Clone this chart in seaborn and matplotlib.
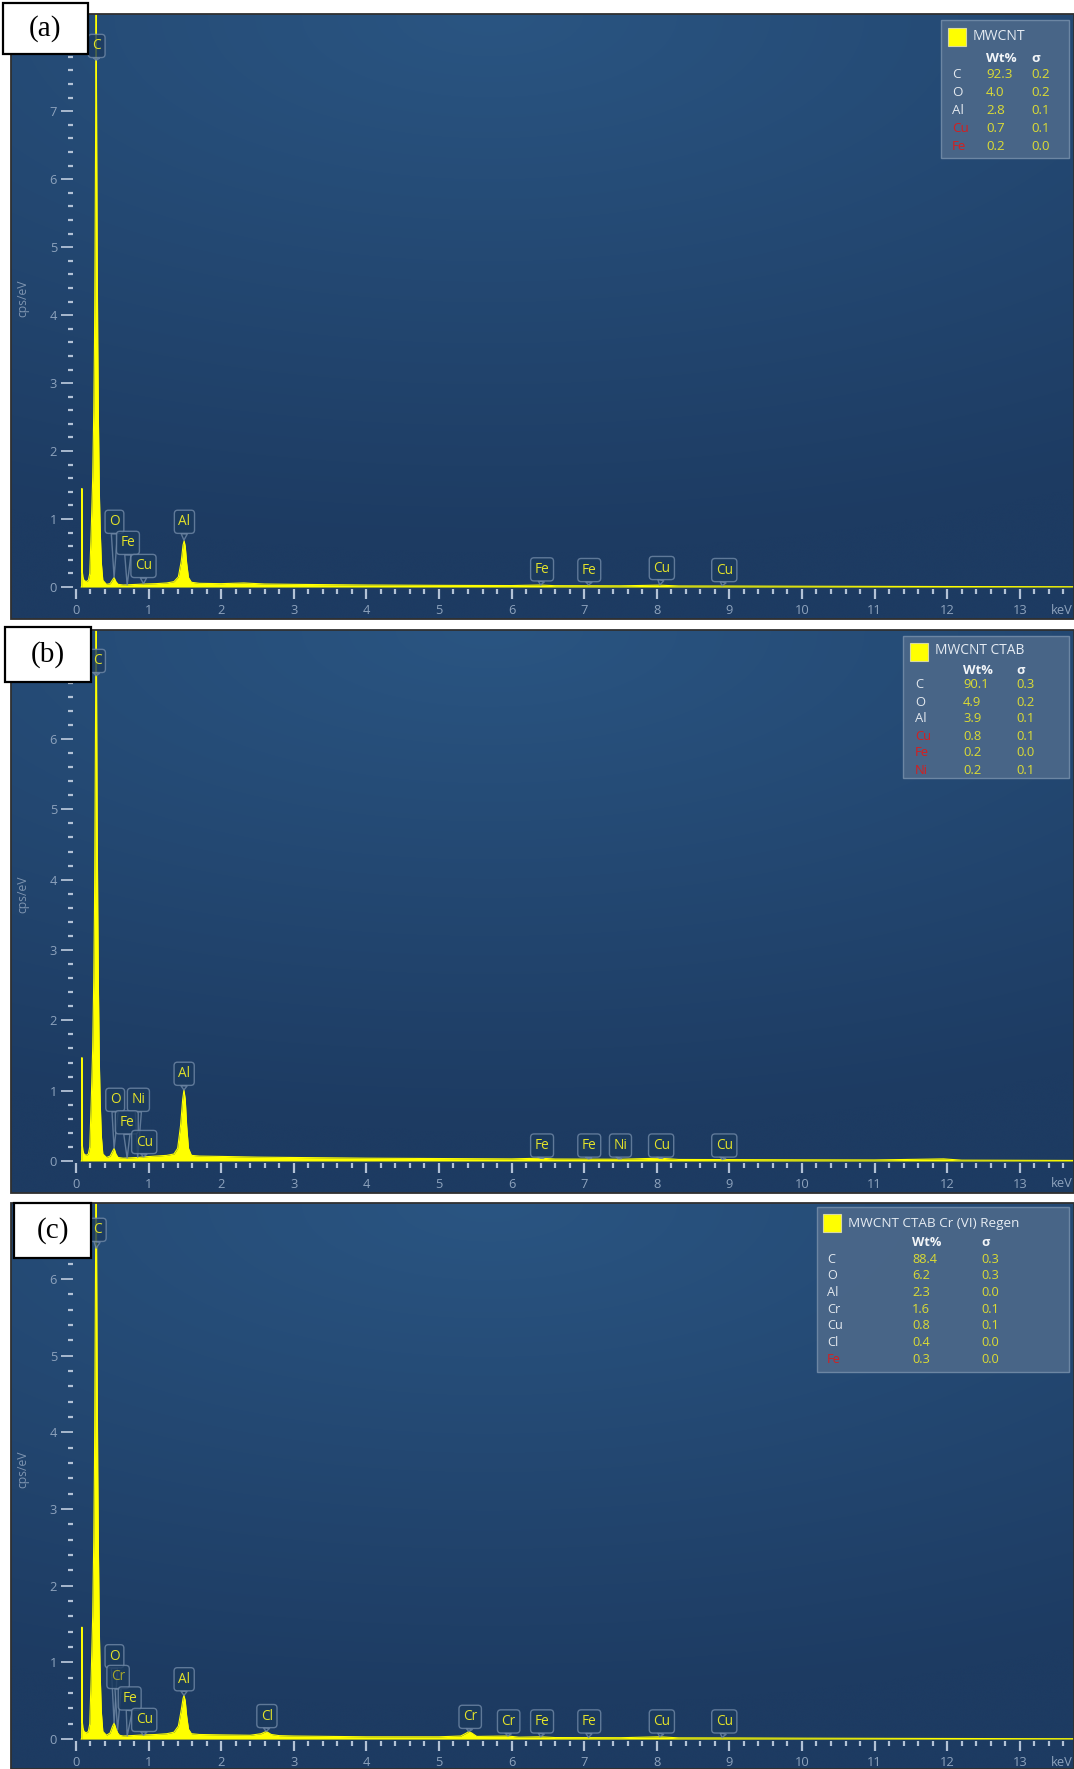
import numpy as np
import matplotlib
matplotlib.use("Agg")
import matplotlib.pyplot as plt
import seaborn as sns
from matplotlib.colors import to_rgb
from matplotlib.patches import Rectangle
from matplotlib.ticker import FixedLocator

# ---------------- spectra (keV, cps/eV) ----------------
energy_a = [0.070, 0.078, 0.082, 0.086, 0.095, 0.110, 0.140, 0.170, 0.190, 0.210,
            0.230, 0.245, 0.255, 0.263, 0.270, 0.275, 0.278, 0.281, 0.286, 0.292,
            0.300, 0.310, 0.322, 0.335, 0.350, 0.370, 0.420, 0.470, 0.500, 0.525,
            0.550, 0.580, 0.650, 0.750, 0.850, 0.950, 1.100, 1.250, 1.350, 1.410,
            1.450, 1.475, 1.490, 1.505, 1.525, 1.550, 1.590, 1.700, 2.000, 2.310,
            2.600, 3.000, 3.500, 4.000, 5.000, 6.000, 6.400, 6.600, 7.500, 8.040,
            8.300, 9.000, 10.00, 11.00, 12.00, 13.00, 13.75]
counts_a = [0, 0, 1.45, 0.25, 0.15, 0.10, 0.08, 0.10, 0.20, 0.85,
            1.6, 2.6, 3.6, 5.0, 6.6, 8.0, 8.6, 7.8, 6.4, 5.0,
            3.6, 2.4, 1.4, 0.8, 0.35, 0.10, 0.04, 0.05, 0.10, 0.14,
            0.08, 0.04, 0.03, 0.035, 0.04, 0.045, 0.05, 0.06, 0.08, 0.15,
            0.38, 0.62, 0.68, 0.60, 0.35, 0.14, 0.07, 0.055, 0.05, 0.06,
            0.045, 0.04, 0.035, 0.03, 0.025, 0.022, 0.03, 0.02, 0.018, 0.028,
            0.016, 0.015, 0.012, 0.010, 0.008, 0.006, 0.005]

energy_b = [0.070, 0.078, 0.082, 0.086, 0.095, 0.110, 0.140, 0.170, 0.190, 0.210,
            0.230, 0.245, 0.255, 0.263, 0.270, 0.275, 0.278, 0.281, 0.286, 0.292,
            0.300, 0.310, 0.322, 0.335, 0.350, 0.370, 0.420, 0.470, 0.500, 0.525,
            0.550, 0.580, 0.650, 0.750, 0.850, 0.950, 1.100, 1.250, 1.350, 1.400,
            1.440, 1.470, 1.487, 1.505, 1.525, 1.550, 1.590, 1.700, 2.000, 2.500,
            3.000, 3.500, 4.000, 5.000, 6.000, 6.400, 6.600, 7.500, 8.040, 8.300,
            9.000, 10.00, 11.00, 11.95, 12.20, 13.00, 13.75]
counts_b = [0, 0, 1.47, 0.25, 0.15, 0.10, 0.08, 0.10, 0.20, 0.85,
            1.6, 2.6, 3.6, 5.0, 6.4, 7.6, 8.0, 7.4, 6.2, 4.9,
            3.6, 2.4, 1.4, 0.8, 0.35, 0.10, 0.05, 0.07, 0.13, 0.18,
            0.10, 0.05, 0.04, 0.045, 0.05, 0.06, 0.07, 0.08, 0.10, 0.18,
            0.50, 0.88, 1.01, 0.88, 0.50, 0.18, 0.08, 0.07, 0.065, 0.055,
            0.05, 0.045, 0.04, 0.035, 0.03, 0.04, 0.028, 0.025, 0.04, 0.022,
            0.02, 0.017, 0.015, 0.03, 0.012, 0.01, 0.008]

energy_c = [0.070, 0.078, 0.082, 0.086, 0.095, 0.110, 0.140, 0.170, 0.190, 0.210,
            0.230, 0.245, 0.255, 0.263, 0.270, 0.275, 0.278, 0.281, 0.286, 0.292,
            0.300, 0.310, 0.322, 0.335, 0.350, 0.370, 0.420, 0.470, 0.500, 0.525,
            0.550, 0.575, 0.600, 0.650, 0.750, 0.850, 0.950, 1.100, 1.250, 1.350,
            1.410, 1.450, 1.475, 1.487, 1.505, 1.525, 1.550, 1.590, 1.700, 2.000,
            2.400, 2.550, 2.620, 2.690, 2.800, 3.000, 3.500, 4.000, 5.000, 5.300,
            5.380, 5.410, 5.450, 5.520, 5.950, 6.100, 6.400, 6.600, 7.500, 8.040,
            8.300, 9.000, 10.00, 11.00, 12.00, 13.00, 13.75]
counts_c = [0, 0, 1.46, 0.25, 0.15, 0.10, 0.08, 0.10, 0.20, 0.85,
            1.6, 2.6, 3.6, 5.0, 6.3, 7.3, 7.6, 7.0, 6.0, 4.8,
            3.5, 2.4, 1.4, 0.8, 0.35, 0.10, 0.05, 0.08, 0.16, 0.21,
            0.14, 0.08, 0.05, 0.04, 0.045, 0.05, 0.055, 0.06, 0.07, 0.09,
            0.17, 0.38, 0.53, 0.57, 0.50, 0.30, 0.13, 0.07, 0.06, 0.055,
            0.05, 0.07, 0.10, 0.06, 0.045, 0.04, 0.035, 0.03, 0.03, 0.04,
            0.08, 0.10, 0.08, 0.035, 0.04, 0.025, 0.03, 0.02, 0.018, 0.03,
            0.016, 0.015, 0.012, 0.010, 0.008, 0.006, 0.005]

# ---------------- quantification tables ----------------
titles = ["MWCNT", "MWCNT CTAB", "MWCNT CTAB Cr (VI) Regen"]
elements_a = ["C", "O", "Al", "Cu", "Fe"]
wt_a = [92.3, 4.0, 2.8, 0.7, 0.2]
sigma_a = [0.2, 0.2, 0.1, 0.1, 0.0]
red_a = ["Cu", "Fe"]
elements_b = ["C", "O", "Al", "Cu", "Fe", "Ni"]
wt_b = [90.1, 4.9, 3.9, 0.8, 0.2, 0.2]
sigma_b = [0.3, 0.2, 0.1, 0.1, 0.0, 0.1]
red_b = ["Cu", "Fe", "Ni"]
elements_c = ["C", "O", "Al", "Cr", "Cu", "Cl", "Fe"]
wt_c = [88.4, 6.2, 2.3, 1.6, 0.8, 0.4, 0.3]
sigma_c = [0.3, 0.3, 0.0, 0.1, 0.1, 0.0, 0.0]
red_c = ["Fe"]

# ---------------- peak markers: symbol, line energy ----------------
peaks_a = ["C", "O", "Fe", "Cu", "Al", "Fe", "Fe", "Cu", "Cu"]
lines_a = [0.277, 0.525, 0.705, 0.93, 1.487, 6.40, 7.06, 8.04, 8.90]
peaks_b = ["C", "O", "Ni", "Fe", "Cu", "Al", "Fe", "Fe", "Ni", "Cu", "Cu"]
lines_b = [0.277, 0.525, 0.85, 0.705, 0.93, 1.487, 6.40, 7.06, 7.47, 8.04, 8.90]
peaks_c = ["C", "O", "Cr", "Fe", "Cu", "Al", "Cl", "Cr", "Cr", "Fe", "Fe", "Cu", "Cu"]
lines_c = [0.277, 0.525, 0.573, 0.705, 0.93, 1.487, 2.62, 5.41, 5.95, 6.40, 7.06, 8.04, 8.90]

# marker layout (tip height, box centre) - placement only
tip_y_a = [7.75, 0.14, 0.03, 0.05, 0.69, 0.03, 0.03, 0.03, 0.02]
box_a = [(0.285, 7.96), (0.53, 0.96), (0.716, 0.65), (0.93, 0.31), (1.494, 0.96),
         (6.42, 0.26), (7.07, 0.25), (8.07, 0.28), (8.93, 0.25)]
tip_y_b = [6.9, 0.18, 0.05, 0.04, 0.06, 1.01, 0.04, 0.03, 0.03, 0.04, 0.02]
box_b = [(0.29, 7.11), (0.54, 0.87), (0.86, 0.87), (0.70, 0.55), (0.94, 0.27), (1.49, 1.24),
         (6.42, 0.22), (7.07, 0.22), (7.50, 0.22), (8.06, 0.22), (8.93, 0.22)]
tip_y_c = [6.4, 0.21, 0.12, 0.04, 0.05, 0.57, 0.10, 0.10, 0.04, 0.03, 0.02, 0.03, 0.02]
box_c = [(0.30, 6.64), (0.53, 1.08), (0.58, 0.81), (0.74, 0.53), (0.94, 0.25), (1.49, 0.78),
         (2.63, 0.30), (5.43, 0.29), (5.96, 0.23), (6.42, 0.23), (7.07, 0.23), (8.07, 0.23), (8.93, 0.23)]

# ---------------- figure layout in pixels ----------------
W, H = 1074, 1769
panels_px = [(11, 14, 1074, 619), (11, 630, 1074, 1193), (11, 1203, 1074, 1769)]
ylims = [(-0.47, 8.43), (-0.455, 7.55), (-0.39, 6.99)]
top_label = [7, 6, 6]
xlim = (-0.895, 13.747)
letter_px = [(3, 3, 88, 54), (5, 627, 91, 682), (14, 1203, 91, 1258)]
# legend: box, square, title pos, header y, wt x, sigma x, first row y, row step, element x
legend_px = [
    dict(box=(941, 20, 1069, 158), sq=(948, 28), title=(973, 37), hy=58, wx=986, sx=1031, r0=75, step=17.8, ex=952, fs=9.6),
    dict(box=(903, 636, 1069, 778), sq=(910, 643), title=(935, 651), hy=671, wx=963, sx=1016, r0=685, step=17.0, ex=915, fs=9.4),
    dict(box=(817, 1207, 1069, 1372), sq=(823, 1214), title=(848, 1223), hy=1242, wx=912, sx=981, r0=1259, step=16.7, ex=827, fs=9.2),
]

YEL = "#ffff00"
LABEL_YEL = "#e2e22a"
TICK_C = "#b3c2d6"
TXT_C = "#8ea3bd"

sns.set_theme(style="ticks")
plt.rcParams["font.family"] = ["Open Sans", "DejaVu Sans"]

fig = plt.figure(figsize=(W / 100, H / 100), dpi=100)
fig.patch.set_facecolor("white")


def fx(x):
    return x / W


def fy(y):
    return 1 - y / H


# background gradient image (decoration)
gy, gx = np.mgrid[0:1:240j, 0:1:360j]
dist = np.clip(np.sqrt((gx - 0.45) ** 2 + (1.3 * gy) ** 2) / 1.15, 0, 1)[..., None]
grad = np.array(to_rgb("#2a5582")) * (1 - dist) + np.array(to_rgb("#1d3b62")) * dist

spectra = [(energy_a, counts_a), (energy_b, counts_b), (energy_c, counts_c)]
peak_sets = [(peaks_a, lines_a, tip_y_a, box_a), (peaks_b, lines_b, tip_y_b, box_b),
             (peaks_c, lines_c, tip_y_c, box_c)]
tables = [(elements_a, wt_a, sigma_a, red_a), (elements_b, wt_b, sigma_b, red_b),
          (elements_c, wt_c, sigma_c, red_c)]
letters = ["(a)", "(b)", "(c)"]

for i in range(3):
    x0, y0, x1, y1 = panels_px[i]
    rect = [fx(x0), fy(y1), (x1 - x0) / W, (y1 - y0) / H]

    bg = fig.add_axes(rect, zorder=0)
    bg.imshow(grad, aspect="auto", extent=(0, 1, 0, 1), interpolation="bicubic")
    bg.set_axis_off()

    ax = fig.add_axes(rect, zorder=1)
    ax.patch.set_visible(False)

    E, C = spectra[i]
    ax.fill_between(E, C, 0, color=YEL, lw=0, zorder=2)
    sns.lineplot(x=E, y=C, ax=ax, color=YEL, lw=0.8, zorder=3)

    ylo, yhi = ylims[i]
    ax.set_xlim(*xlim)
    ax.set_ylim(ylo, yhi)
    ppu = (y1 - y0) / (yhi - ylo)

    # axes drawn inside the panel like the EDS software does
    for s in ["top", "right"]:
        ax.spines[s].set_visible(False)
    ax.spines["bottom"].set_position(("data", -2.0 / ppu))
    ax.spines["left"].set_position(("data", -0.04))
    ax.spines["bottom"].set_color("none")
    ax.spines["left"].set_color("none")

    ax.xaxis.set_major_locator(FixedLocator(np.arange(0, 14, 1)))
    ax.xaxis.set_minor_locator(FixedLocator(np.arange(0, 13.8, 0.2)))
    ax.yaxis.set_major_locator(FixedLocator(np.arange(0, top_label[i] + 1, 1)))
    ax.yaxis.set_minor_locator(FixedLocator(np.arange(0, yhi - 0.1, 0.2)))
    ax.tick_params(axis="x", which="major", direction="out", length=7.5, width=1.6,
                   color=TICK_C, labelcolor=TXT_C, labelsize=9.3, pad=3, bottom=True)
    ax.tick_params(axis="x", which="minor", direction="out", length=3.5, width=1.6,
                   color=TICK_C, bottom=True)
    ax.tick_params(axis="y", which="major", direction="out", length=8.5, width=1.3,
                   color=TICK_C, labelcolor=TXT_C, labelsize=9.3, pad=3, left=True)
    ax.tick_params(axis="y", which="minor", direction="out", length=3.6, width=1.6,
                   color=TICK_C, left=True)
    ax.set_xlabel("")
    ax.set_ylabel("cps/eV", color="#7f95b0", fontsize=8.7)
    ax.yaxis.set_label_coords((29 - x0) / (x1 - x0), 0.53)
    ax.annotate("keV", xy=(13.58, 0), xytext=(0, -23), textcoords="offset pixels",
                ha="center", va="center", color=TXT_C, fontsize=9.3)

    # peak markers
    names, lines, tips, boxes = peak_sets[i]
    for name, e, ty, (bx, by) in zip(names, lines, tips, boxes):
        tc = LABEL_YEL
        if i == 2 and name == "Cr" and e < 1:
            tc = "#a7a72c"
        ax.annotate(name, xy=(e, ty), xytext=(bx, by), ha="center", va="center",
                    color=tc, fontsize=9.8, zorder=6,
                    bbox=dict(boxstyle="round,pad=0.3,rounding_size=0.25", fc="#1b3a5e",
                              ec="#7189a7", lw=1.0, alpha=0.8),
                    arrowprops=dict(arrowstyle="wedge,tail_width=0.45,shrink_factor=0.5",
                                    fc="#1b3a5e", ec="#7189a7", lw=1.0, alpha=0.8,
                                    shrinkA=0, shrinkB=0, relpos=(0.5, 0.0)))

    # panel frame
    fig.add_artist(Rectangle((fx(x0), fy(y1)), (x1 - x0) / W, (y1 - y0) / H,
                             transform=fig.transFigure, fc="none", ec="#303030",
                             lw=1.3, zorder=4))

    # quantification legend
    L = legend_px[i]
    bx0, by0, bx1, by1 = L["box"]
    fig.add_artist(Rectangle((fx(bx0), fy(by1)), (bx1 - bx0) / W, (by1 - by0) / H,
                             transform=fig.transFigure, fc="#4b6789", ec="#7089a6",
                             lw=1.0, alpha=0.95, zorder=5))
    sx, sy = L["sq"]
    fig.add_artist(Rectangle((fx(sx), fy(sy + 18)), 18 / W, 18 / H,
                             transform=fig.transFigure, fc=YEL, ec="#d8d8a0",
                             lw=0.8, zorder=6))
    fs = L["fs"]
    fig.text(fx(L["title"][0]), fy(L["title"][1]), titles[i], color="#e6ecf3",
             fontsize=fs + 0.5, va="center", ha="left", zorder=7)
    fig.text(fx(L["wx"]), fy(L["hy"]), "Wt%", color="#f2f5f8", fontsize=fs,
             fontweight="bold", va="center", ha="left", zorder=7)
    fig.text(fx(L["sx"]), fy(L["hy"]), "σ", color="#f2f5f8", fontsize=fs,
             fontweight="bold", va="center", ha="left", zorder=7)
    els, wts, sig, reds = tables[i]
    for k, (el, w, s) in enumerate(zip(els, wts, sig)):
        ry = L["r0"] + k * L["step"]
        fig.text(fx(L["ex"]), fy(ry), el, color="#d61e1e" if el in reds else "#e3e8ee",
                 fontsize=fs, va="center", ha="left", zorder=7)
        fig.text(fx(L["wx"]), fy(ry), f"{w:.1f}", color="#dcdc34", fontsize=fs,
                 va="center", ha="left", zorder=7)
        fig.text(fx(L["sx"]), fy(ry), f"{s:.1f}", color="#dcdc34", fontsize=fs,
                 va="center", ha="left", zorder=7)

    # panel letter
    lx0, ly0, lx1, ly1 = letter_px[i]
    fig.add_artist(Rectangle((fx(lx0), fy(ly1)), (lx1 - lx0) / W, (ly1 - ly0) / H,
                             transform=fig.transFigure, fc="white", ec="black",
                             lw=1.6, zorder=8))
    fig.text(fx((lx0 + lx1) / 2), fy((ly0 + ly1) / 2), letters[i], color="black",
             fontsize=21, family="Liberation Serif", ha="center", va="center", zorder=9)

fig.savefig("out.png", dpi=100, facecolor="white")
